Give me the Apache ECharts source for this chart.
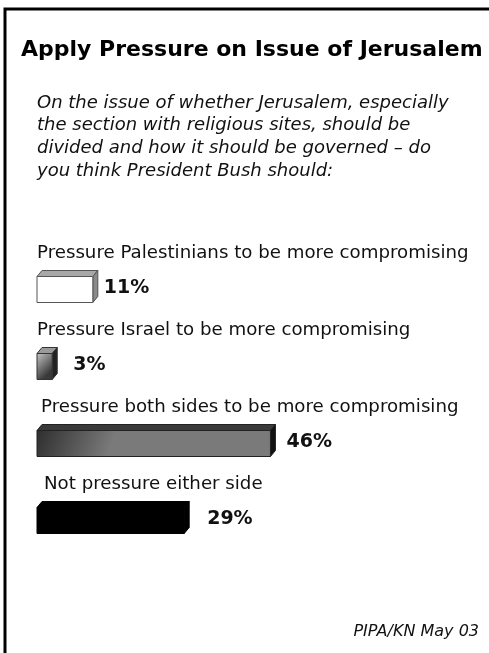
<!DOCTYPE html>
<html>
<head>
<meta charset="utf-8">
<script src="https://cdn.jsdelivr.net/npm/echarts@6/dist/echarts.min.js"></script>
<style>
  html, body { margin: 0; padding: 0; background: #fff; }
  #chart { width: 489px; height: 653px; }
</style>
</head>
<body>
<div id="chart"></div>
<script>
// Survey answers and their shares (%)
const categories = [
  'Pressure Palestinians to be more compromising',
  'Pressure Israel to be more compromising',
  'Pressure both sides to be more compromising',
  'Not pressure either side'
];
const values = [11, 3, 46, 29];

const titleText = 'Apply Pressure on Issue of Jerusalem';
const questionLines = [
  'On the issue of whether Jerusalem, especially',
  'the section with religious sites, should be',
  'divided and how it should be governed \u2013 do',
  'you think President Bush should:'
];
const sourceText = 'PIPA/KN May 03';

// Face fills for each 3D bar: front, top, side
const barLooks = [
  { front: '#ffffff', top: '#a8a8a8', side: '#8a8a8a', stroke: '#555' },
  { front: { type: 'linear', x: 0, y: 0, x2: 1, y2: 0.6,
      colorStops: [{ offset: 0, color: '#c8c8c8' }, { offset: 1, color: '#3a3a3a' }] },
    top: '#9a9a9a', side: '#222', stroke: '#333' },
  { front: { type: 'linear', x: 0, y: 0, x2: 0.3, y2: 1,
      colorStops: [{ offset: 0, color: '#2e2e2e' }, { offset: 1, color: '#7a7a7a' }] },
    top: '#3a3a3a', side: '#111', stroke: '#222' },
  { front: '#000', top: '#000', side: '#000', stroke: '#000' }
];
const labelGap = [6, 16, 11, 18];
const catIndent = [0, 0, 4, 7];

const FRONT_UP = 12, FRONT_DOWN = 14, DX = 5, DY = 6;

function renderBar(params, api) {
  const i = params.dataIndex;
  const v = api.value(1);
  const c = api.value(0);
  const p0 = api.coord([0, c]);
  const p1 = api.coord([v, c]);
  const x0 = p0[0], x1 = p1[0], cy = p0[1];
  const yT = cy - FRONT_UP, yB = cy + FRONT_DOWN;
  const look = barLooks[i];
  const ln = { stroke: look.stroke, lineWidth: 1 };
  return {
    type: 'group',
    children: [
      { type: 'polygon', shape: { points: [[x0, yT], [x0 + DX, yT - DY], [x1 + DX, yT - DY], [x1, yT]] },
        style: Object.assign({ fill: look.top }, ln) },
      { type: 'polygon', shape: { points: [[x1, yT], [x1 + DX, yT - DY], [x1 + DX, yB - DY], [x1, yB]] },
        style: Object.assign({ fill: look.side }, ln) },
      { type: 'rect', shape: { x: x0, y: yT, width: x1 - x0, height: yB - yT },
        style: Object.assign({ fill: look.front }, ln) },
      { type: 'text', x: x0 + catIndent[i], y: cy - 35,
        style: { text: categories[i], fill: '#111', font: '18.2px "DejaVu Sans"',
                 textAlign: 'left', textVerticalAlign: 'middle' } },
      { type: 'text', x: x1 + DX + labelGap[i], y: cy,
        style: { text: v + '%', fill: '#111', font: 'bold 19px "DejaVu Sans"',
                 textAlign: 'left', textVerticalAlign: 'middle' } }
    ]
  };
}

const chart = echarts.init(document.getElementById('chart'), null, { renderer: 'canvas' });

const graphics = [
  { type: 'rect', shape: { x: 5, y: 9, width: 600, height: 800 },
    style: { fill: 'none', stroke: '#000', lineWidth: 3 } },
  { type: 'text', x: 21, y: 50,
    style: { text: titleText, font: 'bold 22px "DejaVu Sans"', fill: '#000',
             textAlign: 'left', textVerticalAlign: 'middle' } },
  { type: 'text', x: 479, y: 632,
    style: { text: sourceText, font: 'italic 16px "DejaVu Sans"', fill: '#111',
             textAlign: 'right', textVerticalAlign: 'middle' } }
];
questionLines.forEach(function (t, k) {
  graphics.push({ type: 'text', x: 37, y: 103 + k * 22.7,
    style: { text: t, font: 'italic 18px "DejaVu Sans"', fill: '#111',
             textAlign: 'left', textVerticalAlign: 'middle' } });
});

chart.setOption({
  backgroundColor: '#fff',
  animation: false,
  grid: { left: 37, top: 250, width: 406, height: 308 },
  xAxis: { type: 'value', min: 0, max: 80, show: false },
  yAxis: { type: 'category', data: categories, inverse: true, show: false },
  graphic: graphics,
  series: [{
    type: 'custom',
    renderItem: renderBar,
    encode: { x: 1, y: 0 },
    data: values.map(function (v, i) { return [i, v]; })
  }]
});
</script>
</body>
</html>
